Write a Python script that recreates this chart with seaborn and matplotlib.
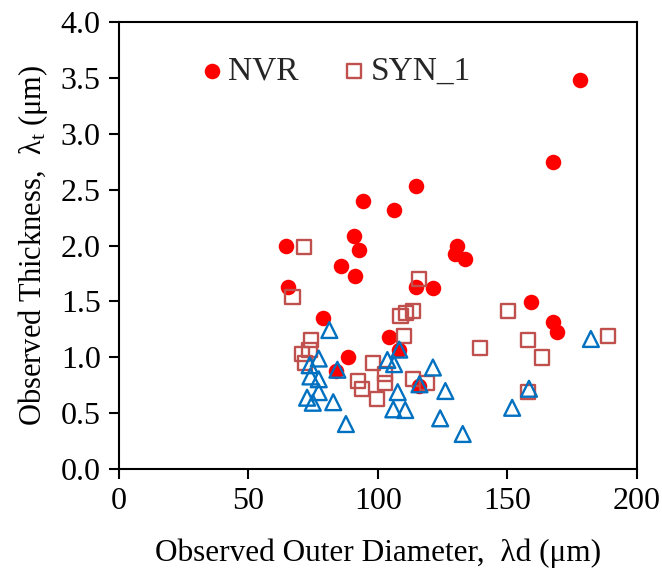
import matplotlib
matplotlib.use("Agg")
import matplotlib.pyplot as plt
import seaborn as sns
import pandas as pd

# NVR series (red filled circles)
nvr_x = [64.6, 65.4, 79.0, 83.9, 85.8, 88.4, 90.8, 91.3, 92.6, 94.2, 104.4, 106.3, 108.3,
         114.6, 114.8, 116.0, 121.3, 130.7, 129.8, 133.7, 159.3, 167.5, 169.3, 167.8, 178.1]
nvr_y = [2.00, 1.63, 1.355, 0.88, 1.82, 1.00, 2.085, 1.73, 1.96, 2.395, 1.18, 2.32, 1.066,
         2.53, 1.63, 0.744, 1.62, 2.00, 1.92, 1.877, 1.495, 1.32, 1.23, 2.75, 3.48]

# SYN_1 series (open squares)
syn_x = [67.1, 71.6, 70.7, 72.0, 73.6, 74.2, 92.5, 93.8, 98.3, 99.8, 102.8, 102.8, 108.8,
         110.9, 113.5, 110.0, 115.9, 113.7, 119.0, 139.5, 150.2, 157.9, 157.9, 163.5, 189.0]
syn_y = [1.54, 1.99, 1.03, 0.95, 1.066, 1.155, 0.79, 0.715, 0.947, 0.63, 0.85, 0.77, 1.37,
         1.394, 1.415, 1.195, 1.70, 0.81, 0.77, 1.087, 1.417, 1.155, 0.69, 1.00, 1.19]

# Third series (open triangles, not in legend)
tri_x = [81.3, 77.2, 73.7, 74.0, 77.2, 77.2, 72.7, 74.9, 82.8, 87.7, 84.4, 103.7, 106.3,
         108.3, 107.7, 106.0, 110.6, 116.1, 121.3, 126.1, 124.1, 132.8, 151.9, 158.4, 182.3]
tri_y = [1.245, 0.99, 0.93, 0.83, 0.805, 0.69, 0.64, 0.595, 0.60, 0.405, 0.89, 0.977, 0.94,
         1.07, 0.69, 0.536, 0.53, 0.76, 0.91, 0.70, 0.456, 0.316, 0.55, 0.72, 1.165]

x_ticks = [0, 50, 100, 150, 200]
y_ticks = [0.0, 0.5, 1.0, 1.5, 2.0, 2.5, 3.0, 3.5, 4.0]

sns.set_theme(style="white")
plt.rcParams['font.family'] = ['Liberation Serif', 'DejaVu Serif']
plt.rcParams['mathtext.fontset'] = 'custom'
plt.rcParams['mathtext.rm'] = 'Liberation Serif'

df_nvr = pd.DataFrame({"x": nvr_x, "y": nvr_y})
df_syn = pd.DataFrame({"x": syn_x, "y": syn_y})
df_tri = pd.DataFrame({"x": tri_x, "y": tri_y})

fig = plt.figure(figsize=(6.62, 5.71), dpi=100)
ax = fig.add_axes([0.1795, 0.178, 0.7823, 0.784])

sns.scatterplot(data=df_nvr, x="x", y="y", ax=ax, marker="o", s=125,
                color="#FF0000", edgecolor="#FF0000", linewidth=0, legend=False, zorder=3)
sns.scatterplot(data=df_syn, x="x", y="y", ax=ax, marker="s", s=105,
                facecolor="none", edgecolor="#C0504D", linewidth=1.7, legend=False, zorder=4)
sns.scatterplot(data=df_tri, x="x", y="y", ax=ax, marker="^", s=130,
                facecolor="none", edgecolor="#0070C0", linewidth=1.7, legend=False, zorder=5)

ax.set_xlim(0, 200)
ax.set_ylim(0, 4.0)
ax.set_xticks(x_ticks)
ax.set_yticks(y_ticks)
ax.set_xticklabels([str(t) for t in x_ticks])
ax.set_yticklabels([f"{t:.1f}" for t in y_ticks])

for sp in ax.spines.values():
    sp.set_visible(True)
    sp.set_color("black")
    sp.set_linewidth(1.5)

ax.tick_params(axis="both", which="major", direction="out", length=7, width=1.5,
               labelsize=23, colors="black", pad=6, bottom=True, left=True)

ax.set_xlabel("Observed Outer Diameter,  λd (μm)", fontsize=22.5, color="black", labelpad=16)
ax.set_ylabel("Observed Thickness,  λ$\\mathregular{_t}$ (μm)", fontsize=22, color="black", labelpad=8)

h1 = ax.collections[0]
h2 = ax.collections[1]
ax.legend([h1, h2], ["NVR", "SYN_1"], loc="upper left", bbox_to_anchor=(0.115, 0.968),
          ncol=2, frameon=False, fontsize=24, handletextpad=0.1, columnspacing=1.25,
          handlelength=0.8, borderaxespad=0.2)

fig.savefig("out.png", dpi=100)
